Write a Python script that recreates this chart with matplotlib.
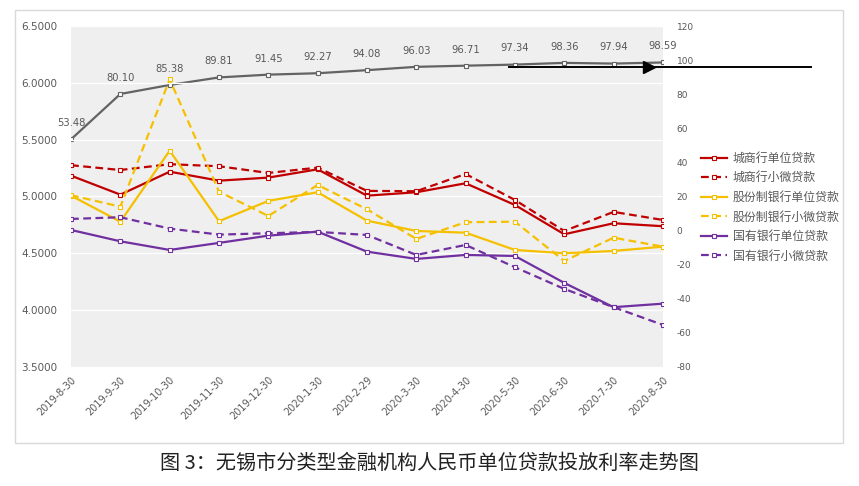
import matplotlib.pyplot as plt
from matplotlib.lines import Line2D
from matplotlib.patches import Rectangle

plt.rcParams['font.family'] = ['Noto Sans CJK SC', 'DejaVu Sans']
plt.rcParams['axes.unicode_minus'] = False

dates = ['2019-8-30', '2019-9-30', '2019-10-30', '2019-11-30', '2019-12-30', '2020-1-30',
         '2020-2-29', '2020-3-30', '2020-4-30', '2020-5-30', '2020-6-30', '2020-7-30', '2020-8-30']

# left axis series (rates)
city_unit = [5.182, 5.015, 5.217, 5.138, 5.165, 5.238, 5.006, 5.036, 5.115, 4.924, 4.666, 4.763, 4.737]
city_small = [5.274, 5.232, 5.283, 5.265, 5.206, 5.253, 5.048, 5.045, 5.197, 4.968, 4.695, 4.863, 4.792]
joint_unit = [5.006, 4.777, 5.402, 4.781, 4.960, 5.036, 4.786, 4.695, 4.680, 4.528, 4.499, 4.519, 4.557]
joint_small = [5.010, 4.909, 6.031, 5.041, 4.827, 5.100, 4.886, 4.625, 4.772, 4.777, 4.431, 4.636, 4.557]
state_unit = [4.704, 4.604, 4.528, 4.590, 4.654, 4.689, 4.513, 4.449, 4.484, 4.475, 4.238, 4.024, 4.055]
state_small = [4.801, 4.816, 4.716, 4.663, 4.675, 4.687, 4.660, 4.484, 4.572, 4.376, 4.185, 4.024, 3.868]

# right axis series
gray_vals = [53.48, 80.10, 85.38, 89.81, 91.45, 92.27, 94.08, 96.03, 96.71, 97.34, 98.36, 97.94, 98.59]

series = [
    ('城商行单位贷款', city_unit, '#c00000', '-'),
    ('城商行小微贷款', city_small, '#c00000', '--'),
    ('股份制银行单位贷款', joint_unit, '#f5c000', '-'),
    ('股份制银行小微贷款', joint_small, '#f5c000', '--'),
    ('国有银行单位贷款', state_unit, '#7030a0', '-'),
    ('国有银行小微贷款', state_small, '#7030a0', '--'),
]

fig = plt.figure(figsize=(8.59, 4.86), dpi=100)
# chart border
fig.patches.append(Rectangle((15 / 859, 1 - 443 / 486), 828 / 859, 433 / 486,
                             transform=fig.transFigure, fill=False,
                             edgecolor='#d9d9d9', linewidth=1))

ax = fig.add_axes([0.0827, 0.2455, 0.689, 0.701])
ax2 = ax.twinx()
ax.set_zorder(ax2.get_zorder() + 1)
ax.patch.set_visible(False)
ax2.patch.set_facecolor('#efefef')
ax2.patch.set_visible(True)

x = list(range(len(dates)))

handles = []
for label, vals, color, ls in series:
    h, = ax.plot(x, vals, color=color, linestyle=ls, linewidth=1.6,
                 dashes=(3.5, 2) if ls == '--' else (None, None),
                 marker='s', markersize=3, markerfacecolor='white',
                 markeredgecolor=color, markeredgewidth=0.8, label=label)
    handles.append(h)

ax2.plot(x, gray_vals, color='#636363', linewidth=1.6, marker='s', markersize=3,
         markerfacecolor='white', markeredgecolor='#636363', markeredgewidth=0.8)
for xi, v in zip(x, gray_vals):
    ax2.annotate('{:.2f}'.format(v), (xi, v), xytext=(0, 8), textcoords='offset points',
                 ha='center', va='bottom', fontsize=7.2, color='#595959', family='DejaVu Sans')

ax.set_xlim(0, 12)
ax.set_ylim(3.5, 6.5)
ax2.set_ylim(-80, 120)
ax.set_yticks([3.5, 4.0, 4.5, 5.0, 5.5, 6.0, 6.5])
ax.set_yticklabels(['{:.4f}'.format(t) for t in ax.get_yticks()])
ax2.set_yticks(range(-80, 121, 20))
ax.set_xticks(x)
ax.set_xticklabels(dates, rotation=45, ha='right', rotation_mode='anchor')

for a in (ax, ax2):
    for s in a.spines.values():
        s.set_visible(False)
ax.tick_params(axis='y', length=0, labelsize=7.5, labelcolor='#595959', pad=10)
ax2.tick_params(axis='y', length=0, labelsize=6.5, labelcolor='#595959', pad=10)
ax.tick_params(axis='x', length=0, labelsize=7, labelcolor='#595959', pad=6)
for t in ax.get_xticklabels() + ax.get_yticklabels() + ax2.get_yticklabels():
    t.set_family('DejaVu Sans')

ax2.set_xticks(x)
ax2.grid(True, color='white', linewidth=0.9)
ax2.set_yticks(range(-80, 121, 20))
ax2.grid(False, axis='y')
# horizontal grid at left-axis ticks
for t in ax.get_yticks():
    ax.axhline(t, color='white', linewidth=0.9, zorder=0)

# black arrow annotation
fig.lines.append(Line2D([509 / 859, 811 / 859], [1 - 67.5 / 486] * 2,
                        transform=fig.transFigure, color='black', linewidth=1.4))
fig.lines.append(Line2D([649 / 859], [1 - 67.5 / 486], transform=fig.transFigure,
                        marker='>', markersize=8, color='black', linestyle='none'))

fig.legend(handles=handles, loc='upper left', bbox_to_anchor=(690 / 859, 1 - 141 / 486),
           frameon=False, fontsize=8.6, handlelength=2.2, labelspacing=0.55,
           handletextpad=0.5, labelcolor='#595959')

fig.text(0.5, 1 - 463 / 486, '图 3：无锡市分类型金融机构人民币单位贷款投放利率走势图',
         ha='center', va='center', fontsize=14.5, color='#222222')

fig.savefig('out.png', dpi=100)
